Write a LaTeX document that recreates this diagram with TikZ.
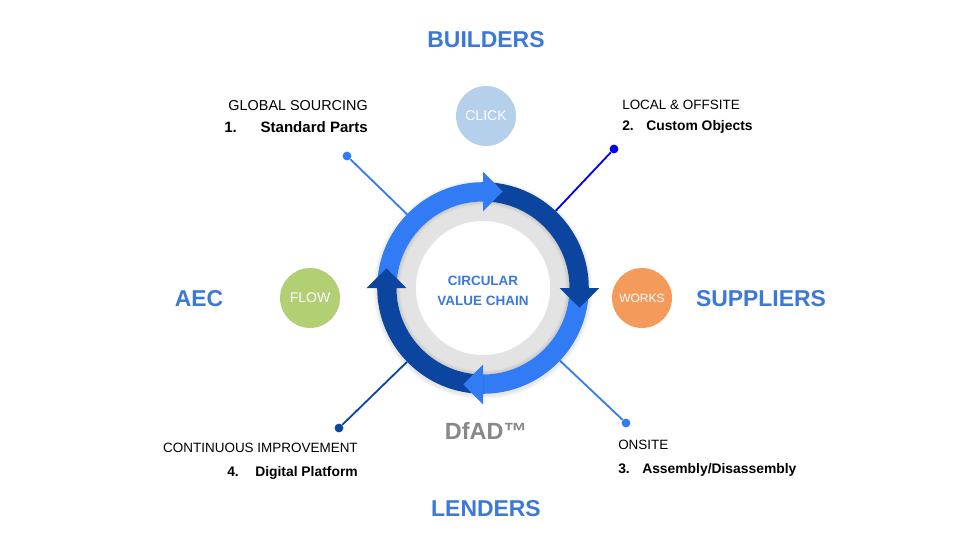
\documentclass[tikz,border=0pt]{standalone}
\usepackage{fontspec}
\setmainfont{Liberation Sans}
\definecolor{ringlight}{HTML}{317BF4}
\definecolor{ringdark}{HTML}{0B45A0}
\definecolor{ringgray}{HTML}{E3E3E3}
\definecolor{headblue}{HTML}{3C78D8}
\definecolor{puremark}{HTML}{0000EE}
\definecolor{clickblue}{HTML}{B5D0EB}
\definecolor{flowgreen}{HTML}{B2CF74}
\definecolor{worksorange}{HTML}{F49B5C}
\definecolor{dfadgray}{HTML}{888888}
\tikzset{
  partner/.style={text=headblue,font=\fontsize{17.2}{20}\selectfont\bfseries},
  badge/.style={circle,minimum size=45pt,inner sep=0pt,text=white,font=\fontsize{10.5}{12}\selectfont},
  stepname/.style={text=black,inner sep=0pt,text height=7.5pt,text depth=0pt,font=\fontsize{10.1}{12}\selectfont},
  steptitle/.style={text=black,inner sep=0pt,text height=7.5pt,text depth=0pt,font=\fontsize{10.4}{12}\selectfont\bfseries},
  enddot/.style={circle,minimum size=6.6pt,inner sep=0pt},
  spoke/.style={line width=1.35pt},
}
\begin{document}
\begin{tikzpicture}[x=0.75pt,y=0.75pt]
  \useasboundingbox (-483,-252) rectangle (477,288);
  % ring outline, for the spokes
  \node[circle,minimum size=158.7pt,inner sep=0pt] (ring) at (0,0) {};
  \node[enddot,fill=ringlight] (dotone) at (-136,132) {};
  \node[enddot,fill=puremark] (dottwo) at (131,139) {};
  \node[enddot,fill=ringlight] (dotthree) at (143,-135) {};
  \node[enddot,fill=ringdark] (dotfour) at (-144,-140) {};
  \draw[spoke,ringlight] (dotone) -- (ring);
  \draw[spoke,puremark] (dottwo) -- (ring);
  \draw[spoke,ringlight] (dotthree) -- (ring);
  \draw[spoke,ringdark] (dotfour) -- (ring);
  % soft edge round the ring
  \foreach \r in {1,2,3,4}
    \fill[black,opacity=0.025] (0,-1.5) circle ({105.8+\r});
  \fill[ringgray] (0,0) circle (86.5);
  \foreach \r in {1,2,3,4}
    \fill[black,opacity=0.025,even odd rule] (0,0) circle (86.5) (0,0) circle ({86.5-\r});
  % four arcs, then the heads on top
  \foreach \a/\c in {90/ringlight,0/ringdark,-90/ringlight,-180/ringdark}
    \fill[\c] ({\a+90}:105.8) arc[start angle={\a+90},end angle=\a,radius=105.8]
      -- (\a:86.5) arc[start angle=\a,end angle={\a+90},radius=86.5] -- cycle;
  \foreach \a/\c in {90/ringlight,0/ringdark,-90/ringlight,-180/ringdark}
    \fill[\c] (\a:76.5) -- (\a:116.5) -- ({\a-11.5}:98.5) -- cycle;
  \node[circle,fill=white,minimum size=100.5pt,inner sep=0pt] (hub) at (0,0) {};
  \node[align=center,text=headblue,font=\fontsize{10.1}{15}\selectfont\bfseries] (hubtext) at (0,-3) {CIRCULAR\\VALUE CHAIN};
  % partners
  \node[partner] (builders) at (3,248) {BUILDERS};
  \node[partner] (lenders) at (3,-221) {LENDERS};
  \node[partner] (aec) at (-284,-11) {AEC};
  \node[partner] (suppliers) at (278,-11) {SUPPLIERS};
  \node[badge,fill=clickblue] (click) at (3,172) {CLICK};
  \node[badge,fill=flowgreen] (flow) at (-173,-10) {FLOW};
  \node[badge,fill=worksorange,font=\fontsize{9}{11}\selectfont] (works) at (159,-10) {WORKS};
  \node[text=dfadgray,font=\fontsize{17.6}{18}\selectfont\bfseries] (dfad) at (3,-143) {DfAD™};
  % steps
  \node[stepname,anchor=east,font=\fontsize{10.8}{12}\selectfont] (nameone) at (-115,183) {GLOBAL SOURCING};
  \node[steptitle,anchor=east,font=\fontsize{11.3}{12}\selectfont\bfseries] (titleone) at (-115,161) {Standard Parts};
  \node[steptitle,anchor=west,font=\fontsize{11.3}{12}\selectfont\bfseries] (numone) at (-259,161) {1.};
  \node[stepname,anchor=west] (nametwo) at (139,184) {LOCAL \& OFFSITE};
  \node[steptitle,anchor=west] (numtwo) at (139,163) {2.};
  \node[steptitle,anchor=west] (titletwo) at (163,163) {Custom Objects};
  \node[stepname,anchor=west] (namethree) at (135,-156) {ONSITE};
  \node[steptitle,anchor=west] (numthree) at (135,-180) {3.};
  \node[steptitle,anchor=west] (titlethree) at (159,-180) {Assembly/Disassembly};
  \node[stepname,anchor=east] (namefour) at (-125,-159) {CONTINUOUS IMPROVEMENT};
  \node[steptitle,anchor=east] (titlefour) at (-125,-183) {Digital Platform};
  \node[steptitle,anchor=west] (numfour) at (-256,-183) {4.};
\end{tikzpicture}
\end{document}
